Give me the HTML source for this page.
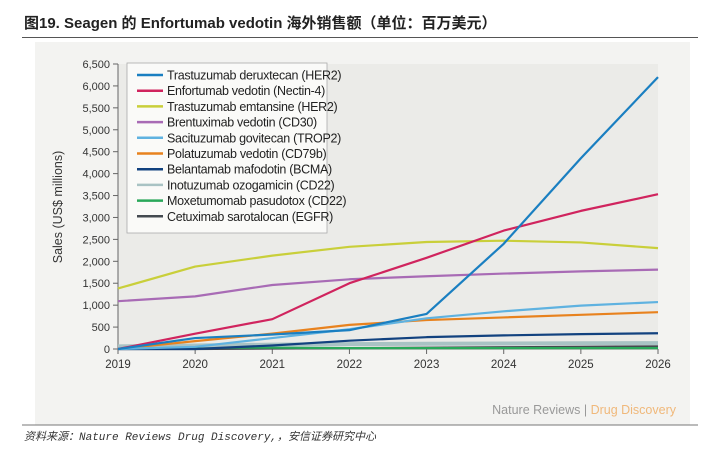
<!DOCTYPE html>
<html><head><meta charset="utf-8"><style>
body{margin:0;width:723px;height:451px;background:#fff;overflow:hidden;font-family:"Liberation Sans","Noto Sans CJK SC",sans-serif}
</style></head><body>
<div style="position:absolute;left:24px;top:12px;font-size:15px;font-weight:bold;color:#222;white-space:nowrap">图19. Seagen 的 Enfortumab vedotin 海外销售额（单位：百万美元）</div>
<div style="position:absolute;left:22px;top:37px;width:676px;height:1px;background:#555"></div>
<div style="position:absolute;left:24px;top:428px;font-size:11px;font-style:italic;color:#333;font-family:'Liberation Mono','Noto Sans CJK SC',monospace">资料来源：Nature Reviews Drug Discovery,，安信证券研究中心</div>
<svg width="723" height="451" style="position:absolute;left:0;top:0">
<rect x="35" y="42" width="655" height="383" fill="#f3f3f1"/>
<line x1="22" y1="425" x2="698" y2="425" stroke="#777" stroke-width="1"/>
<rect x="118" y="64" width="540" height="285" fill="#ebebe8"/>
<g id="axes"></g><g id="lines"></g>
<rect x="127" y="63" width="200" height="170" fill="#fafaf8" stroke="#aaa" stroke-width="0.8"/>
<g id="legend"></g>
<text transform="translate(62,207) rotate(-90)" text-anchor="middle" font-size="12.5" fill="#333">Sales (US$ millions)</text>
<text x="676" y="414" text-anchor="end" font-size="12.5"><tspan fill="#999">Nature Reviews</tspan><tspan fill="#999"> | </tspan><tspan fill="#f0b87a">Drug Discovery</tspan></text>
</svg>
<script>
const years=[2019,2020,2021,2022,2023,2024,2025,2026];
const yTicks=[0,500,1000,1500,2000,2500,3000,3500,4000,4500,5000,5500,6000,6500];
const seriesNames=["Trastuzumab deruxtecan (HER2)","Enfortumab vedotin (Nectin-4)","Trastuzumab emtansine (HER2)","Brentuximab vedotin (CD30)","Sacituzumab govitecan (TROP2)","Polatuzumab vedotin (CD79b)","Belantamab mafodotin (BCMA)","Inotuzumab ozogamicin (CD22)","Moxetumomab pasudotox (CD22)","Cetuximab sarotalocan (EGFR)"];
const seriesColors=["#1a7fc1","#d0245e","#c9cf3a","#a86bb5","#5fb2e0","#e8821e","#12427f","#a9c3c4","#2aa85a","#444a50"];
const sDeruxtecan=[0,250,330,430,800,2400,4350,6200];
const sEnfortumab=[0,350,680,1500,2080,2700,3150,3530];
const sEmtansine=[1380,1880,2130,2330,2440,2470,2430,2300];
const sBrentuximab=[1090,1200,1460,1590,1660,1720,1770,1810];
const sSacituzumab=[0,50,250,450,700,860,990,1070];
const sPolatuzumab=[0,180,350,550,660,720,780,840];
const sBelantamab=[0,0,80,190,270,310,340,360];
const sInotuzumab=[60,80,100,110,120,125,130,135];
const sMoxetumomab=[20,30,30,20,20,20,20,20];
const sCetuximab=[0,0,10,20,30,40,50,60];
const allSeries=[sDeruxtecan,sEnfortumab,sEmtansine,sBrentuximab,sSacituzumab,sPolatuzumab,sBelantamab,sInotuzumab,sMoxetumomab,sCetuximab];
const NS="http://www.w3.org/2000/svg";
const x=v=>118+(v-2019)*(540/7);
const y=v=>349-v*(285/6500);
function mk(t,a,p){const e=document.createElementNS(NS,t);for(const k in a)e.setAttribute(k,a[k]);p.appendChild(e);return e;}
const ax=document.getElementById('axes');
const yl=mk('line',{x1:118,y1:64,x2:118,y2:349,stroke:'#666','stroke-width':1},ax);


const xl=mk('line',{x1:118,y1:349,x2:658,y2:349,stroke:'#666','stroke-width':1},ax);


yTicks.forEach(t=>{
 mk('line',{x1:113,y1:y(t),x2:118,y2:y(t),stroke:'#666'},ax);
 const tx=mk('text',{x:110,y:y(t)+4,'text-anchor':'end','font-size':11,fill:'#333'},ax);
 tx.textContent=t.toLocaleString('en-US');
 
 
});
years.forEach(yr=>{
 mk('line',{x1:x(yr),y1:349,x2:x(yr),y2:354,stroke:'#666'},ax);
 const tx=mk('text',{x:x(yr),y:368,'text-anchor':'middle','font-size':11.5,fill:'#333'},ax);
 tx.textContent=yr;
 
 
});
const lg=document.getElementById('lines');
for(let i=allSeries.length-1;i>=0;i--){
 const d=allSeries[i].map((v,j)=>(j?'L':'M')+x(years[j])+','+y(v)).join('');
 const p=mk('path',{d:d,fill:'none',stroke:seriesColors[i],'stroke-width':i==7?4:2.2,'stroke-linejoin':'round'},lg);
 
 
}
const le=document.getElementById('legend');
seriesNames.forEach((n,i)=>{
 const yy=75+i*15.7;
 const g=mk('g',{},le);
 
 
 mk('line',{x1:137,y1:yy,x2:163,y2:yy,stroke:seriesColors[i],'stroke-width':2.5},g);
 const t=mk('text',{x:167,y:yy+4.5,'font-size':12.5,fill:'#222','letter-spacing':'-0.3'},g);
 t.textContent=n;
});
</script>
</body></html>
